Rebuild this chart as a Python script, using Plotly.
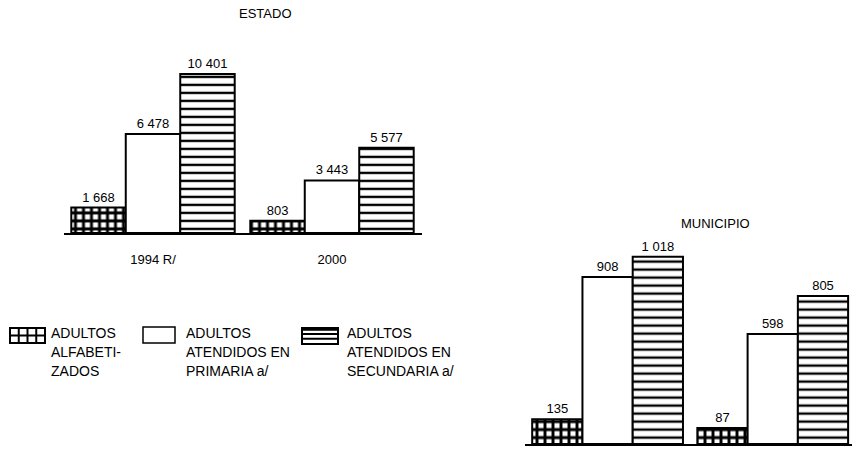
import plotly.graph_objects as go

# ---------------- data ----------------
years = ["1994 R/", "2000"]
series_names = [
    "ADULTOS ALFABETIZADOS",
    "ADULTOS ATENDIDOS EN PRIMARIA a/",
    "ADULTOS ATENDIDOS EN SECUNDARIA a/",
]
estado_alfabetizados = [1668, 803]
estado_primaria = [6478, 3443]
estado_secundaria = [10401, 5577]
municipio_alfabetizados = [135, 87]
municipio_primaria = [908, 598]
municipio_secundaria = [1018, 805]
legend_lines = [
    ["ADULTOS", "ALFABETI-", "ZADOS"],
    ["ADULTOS", "ATENDIDOS EN", "PRIMARIA a/"],
    ["ADULTOS", "ATENDIDOS EN", "SECUNDARIA a/"],
]
panel_titles = ["ESTADO", "MUNICIPIO"]

# ---------------- helpers ----------------
W, H = 852, 457
FONT = "Liberation Sans, Arial, Helvetica, sans-serif"


def px(x):
    return x / W


def py(y):
    return 1 - y / H


def fmt(v):
    return f"{v:,}".replace(",", " ")


patterns = [
    dict(shape="+", size=8, solidity=0.6, fgcolor="black", bgcolor="white", fillmode="replace"),
    None,
    dict(shape="-", size=8, solidity=0.3, fgcolor="black", bgcolor="white", fillmode="replace"),
]

fig = go.Figure()

panels = [
    ("x", "y", [estado_alfabetizados, estado_primaria, estado_secundaria]),
    ("x2", "y2", [municipio_alfabetizados, municipio_primaria, municipio_secundaria]),
]
for xa, ya, series in panels:
    for name, vals, pat in zip(series_names, series, patterns):
        marker = dict(color="white", line=dict(color="black", width=2))
        if pat:
            marker["pattern"] = pat
        fig.add_trace(
            go.Bar(
                x=years,
                y=vals,
                name=name,
                xaxis=xa,
                yaxis=ya,
                marker=marker,
                text=[fmt(v) for v in vals],
                textposition="outside",
                textfont=dict(family=FONT, size=13, color="black"),
                cliponaxis=False,
                showlegend=False,
                hoverinfo="skip",
            )
        )

axis_common = dict(
    type="category",
    showgrid=False,
    zeroline=False,
    showline=True,
    linecolor="black",
    linewidth=1.5,
    ticks="outside",
    ticklen=14,
    tickcolor="rgba(0,0,0,0)",
    tickfont=dict(family=FONT, size=13, color="black"),
    fixedrange=True,
)

fig.update_layout(
    width=W,
    height=H,
    margin=dict(l=0, r=0, t=0, b=0),
    paper_bgcolor="white",
    plot_bgcolor="white",
    barmode="group",
    bargap=0.087,
    bargroupgap=0,
    font=dict(family=FONT, size=13, color="black"),
    xaxis=dict(axis_common, domain=[px(63.5), px(421.5)], range=[-0.5, 1.5], anchor="y"),
    yaxis=dict(domain=[py(233), py(64.9)], range=[0, 11000], visible=False, anchor="x", fixedrange=True),
    xaxis2=dict(axis_common, domain=[px(525), 1.0], range=[-0.5, 1.48], anchor="y2", showticklabels=False),
    yaxis2=dict(domain=[py(444), py(241.6)], range=[0, 1100], visible=False, anchor="x2", fixedrange=True),
)

# panel titles
title_pos = [(265, 13.5), (715, 224)]
for t, (tx, ty) in zip(panel_titles, title_pos):
    fig.add_annotation(
        text=t, x=px(tx), y=py(ty), xref="paper", yref="paper",
        xanchor="center", yanchor="middle", showarrow=False,
        font=dict(family=FONT, size=13, color="black"),
    )

# ---------------- custom legend ----------------
shapes = []
# grid icon
gx0, gy0, gx1, gy1 = 10, 328, 45, 343
shapes.append(dict(type="rect", xref="paper", yref="paper", x0=px(gx0), x1=px(gx1), y0=py(gy1), y1=py(gy0),
                   line=dict(color="black", width=2), fillcolor="white"))
for k in range(1, 4):
    xx = gx0 + (gx1 - gx0) * k / 4
    shapes.append(dict(type="line", xref="paper", yref="paper", x0=px(xx), x1=px(xx), y0=py(gy1), y1=py(gy0),
                       line=dict(color="black", width=2)))
shapes.append(dict(type="line", xref="paper", yref="paper", x0=px(gx0), x1=px(gx1), y0=py((gy0 + gy1) / 2),
                   y1=py((gy0 + gy1) / 2), line=dict(color="black", width=2)))
# blank icon
shapes.append(dict(type="rect", xref="paper", yref="paper", x0=px(143), x1=px(175), y0=py(343), y1=py(327),
                   line=dict(color="black", width=1.5), fillcolor="white"))
# stripes icon
sx0, sy0, sx1, sy1 = 302, 328, 338, 344
shapes.append(dict(type="rect", xref="paper", yref="paper", x0=px(sx0), x1=px(sx1), y0=py(sy1), y1=py(sy0),
                   line=dict(color="black", width=2), fillcolor="white"))
for frac, w in [(0.08, 3), (1 / 3 + 0.04, 2), (2 / 3, 2)]:
    yy = sy0 + (sy1 - sy0) * frac
    shapes.append(dict(type="line", xref="paper", yref="paper", x0=px(sx0), x1=px(sx1), y0=py(yy), y1=py(yy),
                       line=dict(color="black", width=w)))
fig.update_layout(shapes=shapes)

legend_x = [49, 184, 345]
legend_y = [333, 352, 371]
for lx, lines in zip(legend_x, legend_lines):
    for ly, line in zip(legend_y, lines):
        fig.add_annotation(
            text=line, x=px(lx), y=py(ly), xref="paper", yref="paper",
            xanchor="left", yanchor="middle", showarrow=False,
            font=dict(family=FONT, size=14, color="black"),
        )

# remove the browser's default 8px body margin so the figure sits at (0, 0)
fig.write_html(
    "out.html",
    config={"displayModeBar": False, "staticPlot": True},
    post_script="document.body.style.margin='0';document.body.style.overflow='hidden';",
)
